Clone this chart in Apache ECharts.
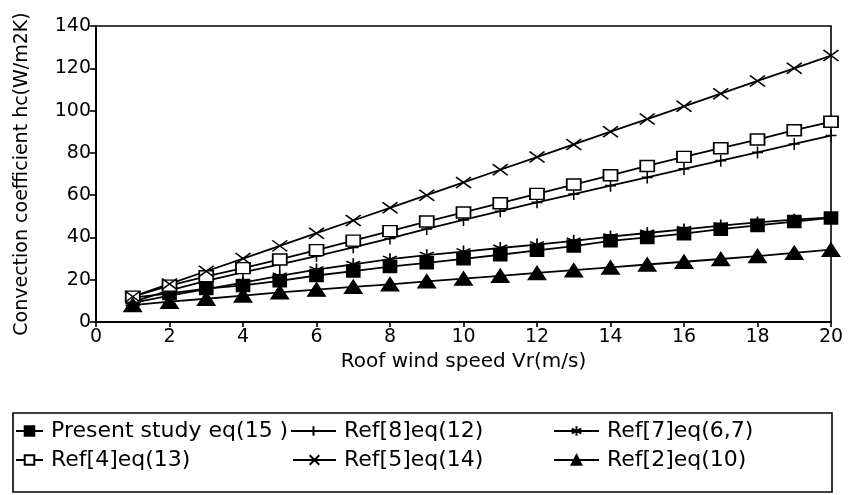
<!DOCTYPE html>
<html>
<head>
<meta charset="utf-8">
<script src="https://cdn.jsdelivr.net/npm/echarts@6/dist/echarts.min.js"></script>
<style>
  html, body { margin: 0; padding: 0; background: #fff; }
  #chart { width: 848px; height: 495px; }
</style>
</head>
<body>
<div id="chart"></div>
<script>
// Roof wind speed Vr (m/s)
const windSpeed = [1, 2, 3, 4, 5, 6, 7, 8, 9, 10, 11, 12, 13, 14, 15, 16, 17, 18, 19, 20];

// Convection coefficient hc (W/m2K) for each correlation
const presentStudy = [11.5, 13.5, 15.8, 17.3, 19.5, 22.0, 24.1, 26.2, 28.0, 29.9, 31.8, 33.9, 35.9, 38.4, 40.0, 41.8, 43.9, 45.7, 47.5, 49.2];
const ref8 = [9.5, 15.0, 19.5, 23.5, 27.3, 31.2, 35.3, 39.5, 44.0, 48.3, 52.4, 56.6, 60.5, 64.5, 68.4, 72.4, 76.3, 80.2, 84.2, 88.2];
const ref7 = [9.0, 12.5, 15.6, 18.6, 21.8, 24.8, 27.3, 29.7, 31.6, 33.3, 35.0, 36.6, 38.4, 40.4, 42.1, 43.8, 45.6, 47.1, 48.4, 49.5];
const ref4 = [12.0, 17.2, 21.6, 25.5, 29.6, 34.0, 38.5, 43.0, 47.5, 51.8, 56.2, 60.6, 65.0, 69.4, 73.8, 78.1, 82.2, 86.3, 90.7, 94.7];
const ref5 = [12, 18, 24, 30, 36, 42, 48, 54, 60, 66, 72, 78, 84, 90, 96, 102, 108, 114, 120, 126];
const ref2 = [8.0, 9.6, 11.0, 12.5, 14.0, 15.3, 16.6, 17.8, 19.2, 20.5, 21.8, 23.2, 24.5, 25.8, 27.2, 28.5, 29.8, 31.2, 32.7, 34.2];

const seriesNames = [
  'Present study eq(15 )',
  'Ref[8]eq(12)',
  'Ref[7]eq(6,7)',
  'Ref[4]eq(13)',
  'Ref[5]eq(14)',
  'Ref[2]eq(10)'
];

const xAxisTitle = 'Roof wind speed Vr(m/s)';
const yAxisTitle = 'Convection coefficient hc(W/m2K)';

const FONT = '"DejaVu Sans", Verdana, sans-serif';

// stroked marker outlines
const PLUS = 'path://M0,5 L10,5 M5,0 L5,10';
const CROSS = 'path://M0,0 L10,10 M0,10 L10,0';
const STAR = 'path://M5,0 L5,10 M0.7,2.5 L9.3,7.5 M0.7,7.5 L9.3,2.5';

function pairs(values) {
  return windSpeed.map((v, i) => [v, values[i]]);
}

function lineSeries(name, values, symbol, size, itemStyle) {
  return {
    name: name,
    type: 'line',
    data: pairs(values),
    symbol: symbol,
    symbolSize: size,
    showAllSymbol: true,
    lineStyle: { color: '#000', width: 1.8 },
    itemStyle: Object.assign({ color: '#000', borderColor: '#000', borderWidth: 1.6 }, itemStyle || {}),
    emphasis: { disabled: true },
    animation: false,
    z: 3
  };
}

const chart = echarts.init(document.getElementById('chart'), null, { renderer: 'canvas' });

const legendText = { fontFamily: FONT, fontSize: 22, color: '#000', padding: [0, 0, 0, 3] };
function legendAt(name, left, top, width) {
  return {
    data: [name],
    left: left,
    top: top,
    itemWidth: width,
    itemHeight: 12,
    itemGap: 0,
    selectedMode: false,
    textStyle: legendText,
    padding: 0
  };
}

chart.setOption({
  backgroundColor: '#fff',
  animation: false,
  grid: {
    left: 96, right: 17, top: 26, bottom: 173,
    show: true, borderColor: '#000', borderWidth: 1.6, backgroundColor: 'transparent'
  },
  xAxis: {
    type: 'value',
    min: 0, max: 20, interval: 2,
    name: xAxisTitle,
    nameLocation: 'middle',
    nameGap: 27,
    nameTextStyle: { fontFamily: FONT, fontSize: 20, color: '#000' },
    axisLine: { lineStyle: { color: '#000', width: 2 } },
    axisTick: { length: 5, lineStyle: { color: '#000', width: 1.6 } },
    axisLabel: { fontFamily: FONT, fontSize: 19, color: '#000', margin: 6 },
    splitLine: { show: false }
  },
  yAxis: {
    type: 'value',
    min: 0, max: 140, interval: 20,
    name: yAxisTitle,
    nameLocation: 'middle',
    nameGap: 64,
    nameTextStyle: { fontFamily: FONT, fontSize: 19, color: '#000' },
    axisLine: { show: true, lineStyle: { color: '#000', width: 2 } },
    axisTick: { show: true, length: 6, lineStyle: { color: '#000', width: 1.6 } },
    axisLabel: { fontFamily: FONT, fontSize: 19, color: '#000', margin: 5 },
    splitLine: { show: false }
  },
  legend: [
    legendAt(seriesNames[0], 15, 420, 27),
    legendAt(seriesNames[1], 290, 420, 45),
    legendAt(seriesNames[2], 553, 420, 45),
    legendAt(seriesNames[3], 15, 449, 27),
    legendAt(seriesNames[4], 292, 449, 43),
    legendAt(seriesNames[5], 553, 449, 45)
  ],
  graphic: [{
    type: 'rect',
    shape: { x: 13, y: 413, width: 819, height: 79 },
    style: { fill: 'none', stroke: '#000', lineWidth: 1.6 },
    silent: true
  }],
  series: [
    lineSeries(seriesNames[0], presentStudy, 'rect', [13, 12]),
    lineSeries(seriesNames[1], ref8, PLUS, [11, 12], { color: 'none' }),
    lineSeries(seriesNames[2], ref7, STAR, [14, 12], { color: 'none' }),
    lineSeries(seriesNames[3], ref4, 'rect', [14, 11], { color: '#fff' }),
    lineSeries(seriesNames[4], ref5, CROSS, [15, 11], { color: 'none' }),
    lineSeries(seriesNames[5], ref2, 'triangle', [17, 13])
  ]
});
</script>
</body>
</html>
